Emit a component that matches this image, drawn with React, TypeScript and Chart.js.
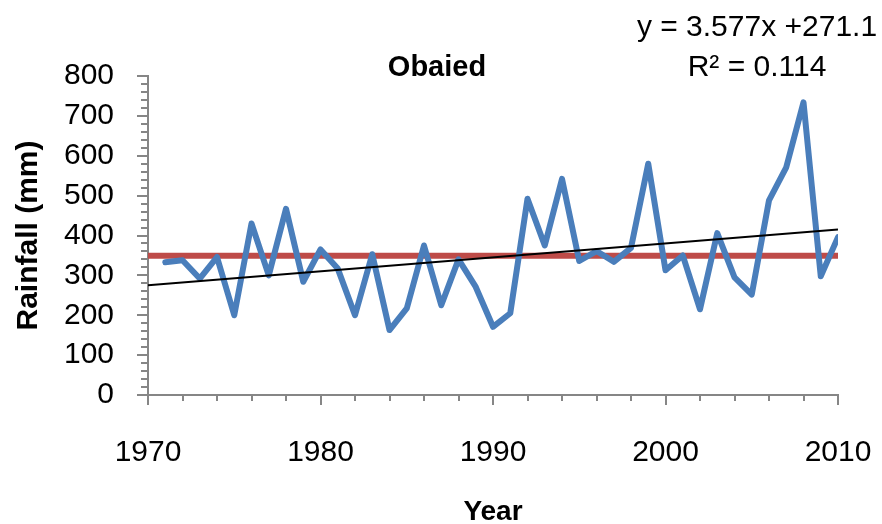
import { useEffect, useRef } from "react";
import { Chart, registerables } from "chart.js";

Chart.register(...registerables);

// ---- Data ----
const YEARS = [
  1971, 1972, 1973, 1974, 1975, 1976, 1977, 1978, 1979, 1980,
  1981, 1982, 1983, 1984, 1985, 1986, 1987, 1988, 1989, 1990,
  1991, 1992, 1993, 1994, 1995, 1996, 1997, 1998, 1999, 2000,
  2001, 2002, 2003, 2004, 2005, 2006, 2007, 2008, 2009, 2010,
];
const RAINFALL = [
  333, 338, 292, 346, 200, 430, 300, 467, 284, 365,
  317, 200, 353, 163, 217, 375, 225, 340, 271, 171,
  205, 492, 375, 542, 336, 361, 334, 369, 580, 313,
  350, 215, 406, 295, 252, 488, 571, 734, 298, 396,
];
const MEAN_RAINFALL = 349;
const TREND_YEARS = [1970, 2010];
const TREND_VALUES = [275, 415];
const X_TICK_YEARS = [1970, 1980, 1990, 2000, 2010];
const Y_TICK_VALUES = [0, 100, 200, 300, 400, 500, 600, 700, 800];

const TITLE = "Obaied";
const EQUATION = "y = 3.577x +271.1";
const R_SQUARED = "R\u00B2 = 0.114";
const X_TITLE = "Year";
const Y_TITLE = "Rainfall (mm)";

const FONT = "'Liberation Sans', Arial, sans-serif";
const AXIS_GREY = "#868686";

const axisTicks = {
  id: "axisTicks",
  afterDraw(chart: any) {
    const { ctx, scales } = chart;
    const x = scales.x;
    const y = scales.y;
    ctx.save();
    ctx.strokeStyle = AXIS_GREY;
    ctx.lineWidth = 2;
    ctx.beginPath();
    for (let v = 0; v <= 800; v += 20) {
      const py = Math.round(y.getPixelForValue(v));
      const len = v % 100 === 0 ? 11 : 7;
      ctx.moveTo(x.left - len, py);
      ctx.lineTo(x.left, py);
    }
    for (let yr = 1970; yr <= 2010; yr += 2) {
      const px = Math.round(x.getPixelForValue(yr));
      const len = (yr - 1970) % 10 === 0 ? 10 : 6;
      ctx.moveTo(px, y.bottom);
      ctx.lineTo(px, y.bottom + len);
    }
    ctx.stroke();

    // chart title and trendline label
    ctx.fillStyle = "#000";
    ctx.textBaseline = "middle";
    ctx.textAlign = "center";
    ctx.font = `bold 29px ${FONT}`;
    ctx.fillText(TITLE, 437, 68);
    ctx.font = `30px ${FONT}`;
    ctx.fillText(EQUATION, 757, 28);
    ctx.fillText(R_SQUARED, 757, 68);
    ctx.restore();
  },
};

export default function App() {
  const canvasRef = useRef<HTMLCanvasElement | null>(null);

  useEffect(() => {
    if (!canvasRef.current) return;
    const chart = new Chart(canvasRef.current, {
      type: "line",
      data: {
        datasets: [
          {
            label: "Rainfall",
            data: YEARS.map((yr, i) => ({ x: yr, y: RAINFALL[i] })),
            borderColor: "#4A7EBB",
            borderWidth: 6,
            pointRadius: 0,
            tension: 0,
            borderJoinStyle: "round",
            borderCapStyle: "round",
            order: 1,
          },
          {
            label: "Mean",
            data: TREND_YEARS.map((yr) => ({ x: yr, y: MEAN_RAINFALL })),
            borderColor: "#BE4B48",
            borderWidth: 6,
            pointRadius: 0,
            order: 2,
          },
          {
            label: "Trend",
            data: TREND_YEARS.map((yr, i) => ({ x: yr, y: TREND_VALUES[i] })),
            borderColor: "#000000",
            borderWidth: 2,
            pointRadius: 0,
            order: 0,
          },
        ],
      },
      options: {
        animation: false,
        responsive: true,
        maintainAspectRatio: false,
        layout: { padding: { left: 0, right: 44, top: 76, bottom: 0 } },
        plugins: {
          legend: { display: false },
          title: { display: false },
          tooltip: { enabled: false },
        },
        scales: {
          x: {
            type: "linear",
            min: 1970,
            max: 2010,
            afterFit: (s: any) => {
              s.height = 129;
              s.paddingLeft = 0;
              s.paddingRight = 0;
            },
            afterBuildTicks: (s: any) => {
              s.ticks = X_TICK_YEARS.map((v) => ({ value: v }));
            },
            grid: { display: false, drawTicks: false },
            border: { display: true, color: AXIS_GREY, width: 2 },
            ticks: {
              padding: 40,
              color: "#000",
              font: { family: FONT, size: 30 },
              maxRotation: 0,
              callback: (v: any) => String(v),
            },
            title: {
              display: true,
              text: X_TITLE,
              color: "#000",
              font: { family: FONT, size: 28, weight: "bold", lineHeight: 0.85 },
              padding: { top: 0, bottom: 0 },
            },
          },
          y: {
            min: 0,
            max: 800,
            afterFit: (s: any) => {
              s.width = 148;
              s.paddingTop = 0;
              s.paddingBottom = 0;
            },
            afterBuildTicks: (s: any) => {
              s.ticks = Y_TICK_VALUES.map((v) => ({ value: v }));
            },
            grid: { display: false, drawTicks: false },
            border: { display: true, color: AXIS_GREY, width: 2 },
            ticks: {
              padding: 34,
              color: "#000",
              font: { family: FONT, size: 30 },
              callback: (v: any) => String(v),
            },
            title: {
              display: true,
              text: Y_TITLE,
              color: "#000",
              font: { family: FONT, size: 30, weight: "bold", lineHeight: 1.2 },
              padding: { top: 11, bottom: 0 },
            },
          },
        },
      },
      plugins: [axisTicks],
    });
    return () => chart.destroy();
  }, []);

  return (
    <div style={{ position: "fixed", left: 0, top: 0, width: 882, height: 524, background: "#fff" }}>
      <canvas ref={canvasRef} />
    </div>
  );
}
